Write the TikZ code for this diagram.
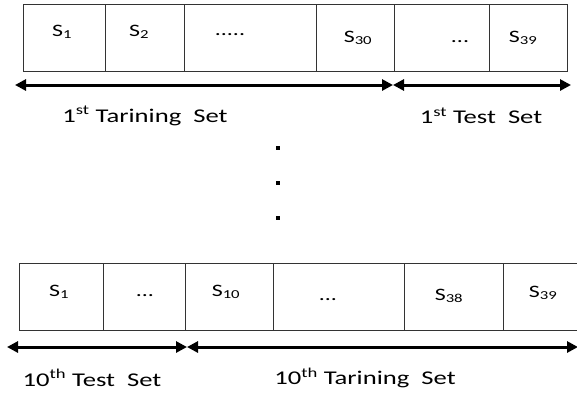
\documentclass[tikz,border=0pt]{standalone}
\usepackage{fontspec}
\setmainfont{Carlito}
\newfontfamily\widefont[FakeStretch=1.37]{Carlito}
\usetikzlibrary{arrows.meta}
\begin{document}
\begin{tikzpicture}[x=1bp,y=-1bp,
  cell/.style={draw=black!80,line width=1.3bp,inner sep=0pt,anchor=north west},
  lbl/.style={inner sep=0pt,font=\widefont\fontsize{17.5}{20}\selectfont},
  captxt/.style={inner sep=0pt,font=\widefont\fontsize{19.5}{22}\selectfont},
  dim/.style={line width=3bp,{Triangle[length=11bp,width=11bp]}-{Triangle[length=11bp,width=11bp]}},
  dotn/.style={fill=black,minimum size=3.5bp,inner sep=0pt}]
\useasboundingbox (0,0) rectangle (577,394);
% top row
\node[cell,minimum width=82bp,minimum height=67bp] (a1) at (23,4) {};
\node[cell,minimum width=79bp,minimum height=67bp] (a2) at (105,4) {};
\node[cell,minimum width=132bp,minimum height=67bp] (a3) at (184,4) {};
\node[cell,minimum width=78bp,minimum height=67bp] (a4) at (316,4) {};
\node[cell,minimum width=95bp,minimum height=67bp] (a5) at (394,4) {};
\node[cell,minimum width=78bp,minimum height=67bp] (a6) at (489,4) {};
\node[lbl] (ta1) at (62,32) {S\textsubscript{1}};
\node[lbl] (ta2) at (139,32) {S\textsubscript{2}};
\node[lbl] (ta3) at (230,35) {.....};
\node[lbl] (ta4) at (358,38) {S\textsubscript{30}};
\node[lbl] (ta5) at (460,42) {...};
\node[lbl] (ta6) at (523,38) {S\textsubscript{39}};
\coordinate (p1) at (15,85);
\coordinate (p2) at (393,85);
\coordinate (p3) at (571,85);
\draw[dim] (p1) -- (p2);
\draw[dim] (p2) -- (p3);
\node[captxt] (c1) at (145,116) {1\textsuperscript{st} Tarining\ \ Set};
\node[captxt] (c2) at (481,116) {1\textsuperscript{st} Test\ \ Set};
% dots
\node[dotn] (d1) at (278,148) {};
\node[dotn] (d2) at (278,183) {};
\node[dotn] (d3) at (278,218) {};
% bottom row
\node[cell,minimum width=84bp,minimum height=67bp] (b1) at (19,263) {};
\node[cell,minimum width=82bp,minimum height=67bp] (b2) at (103,263) {};
\node[cell,minimum width=88bp,minimum height=67bp] (b3) at (185,263) {};
\node[cell,minimum width=131bp,minimum height=67bp] (b4) at (273,263) {};
\node[cell,minimum width=99bp,minimum height=67bp] (b5) at (404,263) {};
\node[cell,minimum width=80bp,minimum height=67bp] (b6) at (503,263) {};
\node[lbl] (tb1) at (59,292) {S\textsubscript{1}};
\node[lbl] (tb2) at (145,296) {...};
\node[lbl] (tb3) at (226,292) {S\textsubscript{10}};
\node[lbl] (tb4) at (328,300) {...};
\node[lbl] (tb5) at (449,296) {S\textsubscript{38}};
\node[lbl] (tb6) at (543,293) {S\textsubscript{39}};
\coordinate (q1) at (7,347);
\coordinate (q2) at (187,347);
\coordinate (q3) at (578,347);
\draw[dim] (q1) -- (q2);
\draw[dim] (q2) -- (q3);
\node[captxt] (e1) at (92,378) {10\textsuperscript{th} Test\ \ Set};
\node[captxt] (e2) at (365,378) {10\textsuperscript{th} Tarining\ \ Set};
\end{tikzpicture}
\end{document}
